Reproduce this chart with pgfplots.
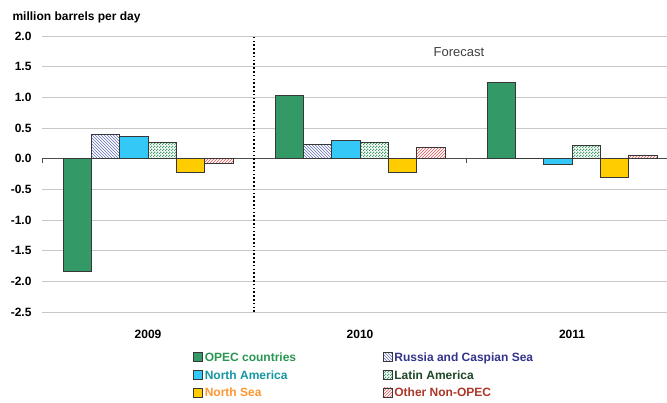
\documentclass[border=0pt]{standalone}
\usepackage{fontspec}
\setmainfont{Liberation Sans}
\usepackage{pgfplots}
\pgfplotsset{compat=1.18}
\usetikzlibrary{patterns}

\definecolor{opecfill}{RGB}{51,153,102}
\definecolor{nafill}{RGB}{51,200,245}
\definecolor{nsfill}{RGB}{255,204,0}
\definecolor{rusline}{RGB}{95,110,185}
\definecolor{laline}{RGB}{70,160,110}
\definecolor{othline}{RGB}{232,80,80}
\definecolor{bardraw}{RGB}{55,55,55}
\definecolor{opectext}{RGB}{40,150,80}
\definecolor{rustext}{RGB}{51,51,140}
\definecolor{natext}{RGB}{20,150,160}
\definecolor{latext}{RGB}{30,70,40}
\definecolor{nstext}{RGB}{255,150,50}
\definecolor{othtext}{RGB}{170,55,40}

% fine checkerboard used for the Latin America bars
\pgfdeclarepatternformonly{fine checker}{\pgfpointorigin}{\pgfqpoint{3pt}{3pt}}{\pgfqpoint{3pt}{3pt}}{%
  \pgfpathrectangle{\pgfpointorigin}{\pgfqpoint{1.5pt}{1.5pt}}%
  \pgfpathrectangle{\pgfqpoint{1.5pt}{1.5pt}}{\pgfqpoint{1.5pt}{1.5pt}}%
  \pgfusepath{fill}}

\begin{document}
\begin{tikzpicture}
\useasboundingbox (0,0) rectangle (667pt,403pt);
\node[anchor=base west, font=\bfseries\fontsize{12}{14}\selectfont] at (9pt,382.5pt) {million barrels per day};
\begin{axis}[
  at={(42pt,91pt)}, anchor=south west,
  scale only axis, width=625pt, height=276pt,
  ybar=0pt, bar width=28.3pt,
  xmin=-0.5, xmax=2.448, ymin=-2.5, ymax=2.0,
  xtick={0,1,2}, xticklabels={2009,2010,2011},
  ytick={-2.5,-2.0,-1.5,-1.0,-0.5,0,0.5,1.0,1.5,2.0},
  /pgf/number format/assume math mode=true,
  yticklabel style={/pgf/number format/fixed, /pgf/number format/fixed zerofill,
    /pgf/number format/precision=1, xshift=-7pt},
  ticklabel style={font=\bfseries\fontsize{12}{14}\selectfont},
  xticklabel style={yshift=-10pt},
  ymajorgrids, grid style={black!22, line width=0.8pt},
  axis line style={draw=none}, major tick style={draw=none},
  legend columns=2,
  legend cell align=left,
  legend style={at={(axis description cs:0.2416,-0.14)}, anchor=north west,
    draw=none, fill=none, font=\bfseries\fontsize{12}{14}\selectfont,
    row sep=3.5pt, inner sep=0pt},
  legend image code/.code={\draw[#1, line width=0.6pt] (0pt,-3.5pt) rectangle (9pt,5.5pt);},
  every axis plot/.append style={draw=bardraw, line width=0.8pt},
]
% zero line with small ticks at the category boundaries
\draw[black!70, line width=0.8pt] (axis cs:-0.5,0) -- (axis cs:2.448,0);
\draw[black!70, line width=0.8pt] (axis cs:-0.5,0) -- (axis cs:-0.5,-0.065);
\draw[black!70, line width=0.8pt] (axis cs:1.5,0) -- (axis cs:1.5,-0.065);

\addplot[fill=opecfill] coordinates {(0,-1.83) (1,1.03) (2,1.24)};
\addplot[fill=white, postaction={pattern=north west lines, pattern color=rusline}] coordinates {(0,0.40) (1,0.23) (2,0.0)};
\addplot[fill=nafill] coordinates {(0,0.36) (1,0.29) (2,-0.10)};
\addplot[fill=white, postaction={pattern=fine checker, pattern color=laline}] coordinates {(0,0.26) (1,0.27) (2,0.21)};
\addplot[fill=nsfill] coordinates {(0,-0.22) (1,-0.23) (2,-0.31)};
\addplot[fill=white, postaction={pattern=north east lines, pattern color=othline}] coordinates {(0,-0.08) (1,0.19) (2,0.06)};

\addlegendentry{\makebox[176pt][l]{\textcolor{opectext}{OPEC countries}}}
\addlegendentry{\textcolor{rustext}{Russia and Caspian Sea}}
\addlegendentry{\makebox[176pt][l]{\textcolor{natext}{North America}}}
\addlegendentry{\textcolor{latext}{Latin America}}
\addlegendentry{\makebox[176pt][l]{\textcolor{nstext}{North Sea}}}
\addlegendentry{\textcolor{othtext}{Other Non-OPEC}}

% forecast divider
\draw[black, line width=1.6pt, dash pattern=on 1.6pt off 2.2pt] (axis cs:0.5,-2.5) -- (axis cs:0.5,2.0);
\node[font=\fontsize{13}{15}\selectfont, text=black!75] at (axis cs:1.467,1.74) {Forecast};
\end{axis}
\end{tikzpicture}
\end{document}
